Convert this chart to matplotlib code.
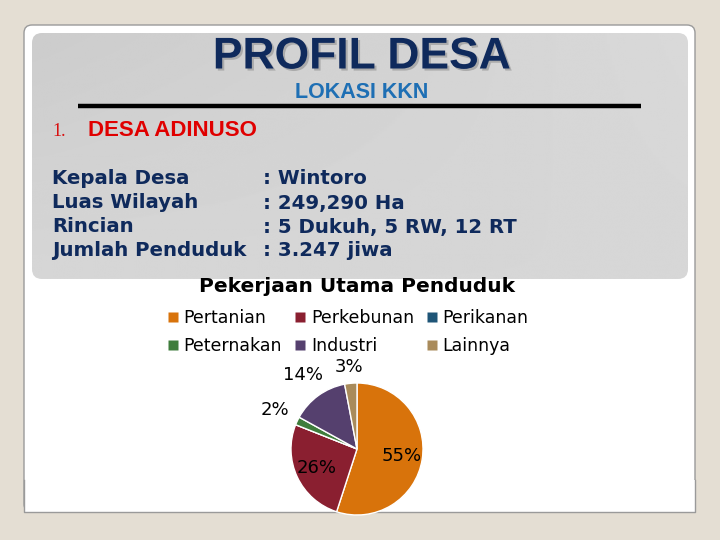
import matplotlib
matplotlib.use('Agg')
import matplotlib.pyplot as plt
import numpy as np
from matplotlib.patches import FancyBboxPatch, Rectangle
from matplotlib.lines import Line2D
import matplotlib.patheffects as pe

# --- Data ---
title = 'PROFIL DESA'
subtitle = 'LOKASI KKN'
section = 'DESA ADINUSO'
info_keys = ['Kepala Desa', 'Luas Wilayah', 'Rincian', 'Jumlah Penduduk']
info_vals = ['Wintoro', '249,290 Ha', '5 Dukuh, 5 RW, 12 RT', '3.247 jiwa']

chart_title = 'Pekerjaan Utama Penduduk'
jobs = ['Pertanian', 'Perkebunan', 'Perikanan', 'Peternakan', 'Industri', 'Lainnya']
shares = [55, 26, 0, 2, 14, 3]
colors = ['#D8730B', '#8A1F30', '#1E5577', '#3F7D3C', '#55406E', '#A98B5B']

NAVY = '#0F2A5C'
W, H = 720, 540

fig = plt.figure(figsize=(7.2, 5.4), dpi=100)
fig.patch.set_facecolor('#E4DED3')

# background canvas in pixel coords (y down)
bg = fig.add_axes([0, 0, 1, 1])
bg.set_xlim(0, W)
bg.set_ylim(H, 0)
bg.axis('off')

# white slide panel
bg.add_patch(FancyBboxPatch((24, 25), 671, 487, boxstyle='round,pad=0,rounding_size=8',
                            fc='white', ec='#9A9A9A', lw=1.0, zorder=1))
bg.add_patch(Rectangle((24.5, 480), 670, 32, fc='white', ec='none', zorder=1.1))
bg.plot([24, 24, 695, 695], [480, 512, 512, 480], color='#9A9A9A', lw=1.0, zorder=1.2)

# grey header box with soft gradient
grad = np.linspace(0, 1, 256)
gx, gy = np.meshgrid(grad, grad)
img = 0.80 + 0.05 * gx * (1 - gy) + 0.04 * gy
box = FancyBboxPatch((32, 33), 656, 246, boxstyle='round,pad=0,rounding_size=10',
                     fc='none', ec='none', zorder=1.5)
bg.add_patch(box)
im = bg.imshow(img, cmap='gray', vmin=0, vmax=1, extent=(32, 688, 279, 33),
               aspect='auto', zorder=1.5, interpolation='bilinear')
im.set_clip_path(box)
bg.set_xlim(0, W)
bg.set_ylim(H, 0)

bg.text(362, 57, title, ha='center', va='center', fontsize=32, fontweight='bold',
        color=NAVY, family='Liberation Sans', zorder=3,
        path_effects=[pe.withSimplePatchShadow(offset=(1.5, -1.5), shadow_rgbFace='#9A9A9A', alpha=0.7)])
bg.text(362, 92, subtitle, ha='center', va='center', fontsize=15.5, fontweight='bold',
        color='#1E6FB4', family='Liberation Sans', zorder=3)
bg.plot([78, 641], [106, 106], color='black', lw=3.2, solid_capstyle='butt', zorder=3)

bg.text(52, 131, '1.', ha='left', va='center', fontsize=13, color='#D81010',
        family='Liberation Serif', zorder=3)
bg.text(88, 130, section, ha='left', va='center', fontsize=16, fontweight='bold',
        color='#E00000', family='Liberation Sans', zorder=3)

for i, (k, v) in enumerate(zip(info_keys, info_vals)):
    y = 179 + 24 * i
    bg.text(52, y, k, ha='left', va='center', fontsize=14.2, fontweight='bold',
            color=NAVY, zorder=3)
    bg.text(263, y, ': ' + v, ha='left', va='center', fontsize=14.2, fontweight='bold',
            color=NAVY, zorder=3)

bg.text(357, 286, chart_title, ha='center', va='center', fontsize=14.5, fontweight='bold',
        color='black', zorder=3)

# --- Pie ---
cx, cy, r = 357, 449, 66
side = 3 * r
pax = fig.add_axes([(cx - side / 2) / W, 1 - (cy + side / 2) / H, side / W, side / H])
wedges, _ = pax.pie(shares, colors=colors, startangle=90, counterclock=False,
                    wedgeprops=dict(edgecolor='white', linewidth=1.0))
pax.set_xlim(-1.5, 1.5)
pax.set_ylim(-1.5, 1.5)
pax.set_aspect('equal')
for w in wedges:
    w.set_clip_on(False)

for w, s in zip(wedges, shares):
    if s <= 0:
        continue
    ang = np.deg2rad((w.theta1 + w.theta2) / 2)
    dist = 0.68 if s >= 20 else (1.25 if s < 5 and s > 2 else 1.38)
    pax.text(dist * np.cos(ang), dist * np.sin(ang), f'{s}%', ha='center', va='center',
             fontsize=13, color='black')

# --- Legend (row-wise order for 3 columns) ---
order = [0, 3, 1, 4, 2, 5]
handles = [Line2D([], [], marker='s', ls='none', markersize=7, markerfacecolor=colors[i],
                  markeredgecolor='none') for i in order]
labels = [jobs[i] for i in order]
fig.legend(handles, labels, ncol=3, loc='upper left',
           bbox_to_anchor=(168 / W, 1 - 309 / H), frameon=False, fontsize=12.5,
           handlelength=0.6, handletextpad=0.3, columnspacing=0.75, labelspacing=0.6,
           borderpad=0, borderaxespad=0)

fig.savefig('out.png', dpi=100, facecolor=fig.get_facecolor())
